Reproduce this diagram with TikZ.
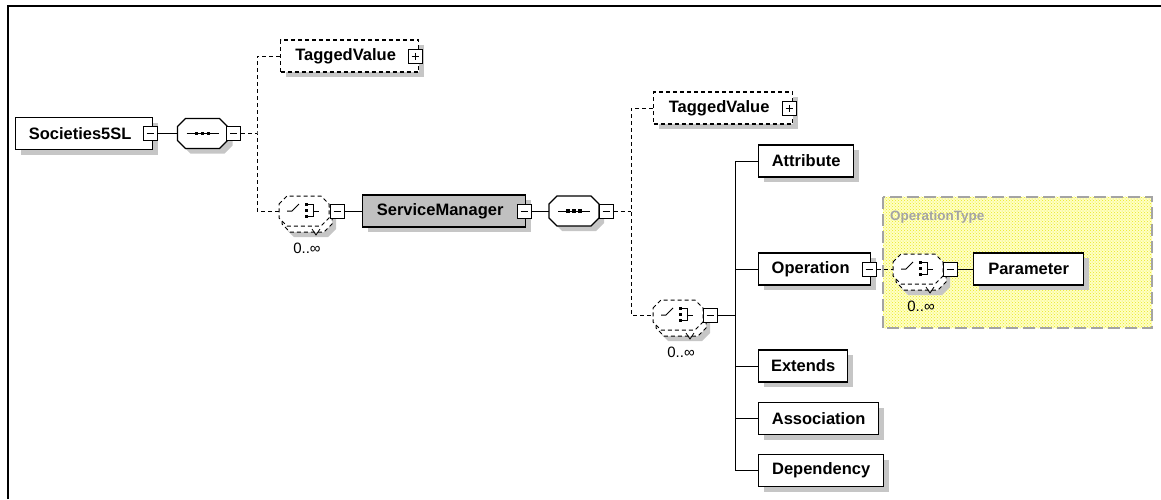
\documentclass[tikz,border=0pt]{standalone}
\usepackage{fontspec}
\setmainfont{Liberation Sans}
\usetikzlibrary{shadows,patterns}
\definecolor{shade}{HTML}{C6C6C6}
\definecolor{smfill}{HTML}{C0C0C0}
\definecolor{typefill}{HTML}{FFFFC4}
\definecolor{typedots}{HTML}{E8E820}
\definecolor{typeedge}{HTML}{A4A4A4}

% octagonal outline of a compositor, offset by (#2,#3) from the current origin
\newcommand\octshape[3]{%
  \draw[#1] (#2-25,#3-7) -- (#2-17,#3-15) -- (#2+17,#3-15) -- (#2+25,#3-7)
    -- (#2+25,#3+7) -- (#2+17,#3+15) -- (#2-17,#3+15) -- (#2-25,#3+7) -- cycle;}

% sequence compositor around node #1
\newcommand\seqcomp[1]{%
  \begin{scope}[shift={(#1.center)}]
    \octshape{fill=shade,draw=none}{5}{5}
    \octshape{fill=white,draw=black,line width=1.1pt}{0}{0}
    \draw[line width=1pt] (-16,0) -- (16,0);
    \foreach \dx in {-6,0,6} \fill (\dx-1.8,-1.8) rectangle (\dx+1.8,1.8);
  \end{scope}}

% optional, repeated choice compositor around node #1
\newcommand\chocomp[1]{%
  \begin{scope}[shift={(#1.center)}]
    \octshape{fill=shade,draw=none}{7}{11}
    \octshape{fill=white,draw=black,line width=1pt,optdash}{3}{6}
    \octshape{fill=white,draw=black,line width=1pt,optdash}{0}{0}
    \draw[line width=0.8pt] (8,18) -- (12,24) -- (16,18);
    \draw[line width=1pt] (-17,0) -- (-12,0) -- (-5,-7);
    \fill (1,-8) rectangle (4,-5);
    \fill (1,-2) rectangle (4,1);
    \fill (1,4) rectangle (4,7);
    \draw[line width=1pt] (4,-6.5) -- (9,-6.5) -- (9,5.5) -- (4,5.5);
    \draw[line width=1pt] (9,0) -- (15,0);
  \end{scope}}

\begin{document}
\begin{tikzpicture}[x=1pt,y=-1pt,
  elem/.style={draw=black, line width=1.3pt, fill=white, minimum height=32pt,
    inner sep=0pt, anchor=west, font=\bfseries\fontsize{16.5}{18}\selectfont,
    drop shadow={shadow xshift=5pt, shadow yshift=-5pt, fill=shade, opacity=1}},
  optdash/.style={dash pattern=on 4pt off 3pt},
  optelem/.style={elem, optdash},
  keyed/.style={execute at begin node={\hspace*{-8pt}}},
  comp/.style={minimum width=50pt, minimum height=30pt, inner sep=0pt},
  btn/.style={draw=black, line width=1pt, fill=white, minimum size=14pt, inner sep=0pt},
  minus/.style={btn, path picture={\draw[line width=1pt]
      ([xshift=3.5pt]path picture bounding box.west) -- ([xshift=-3.5pt]path picture bounding box.east);}},
  plus/.style={btn, path picture={\draw[line width=1pt]
      ([xshift=3.5pt]path picture bounding box.west) -- ([xshift=-3.5pt]path picture bounding box.east)
      ([yshift=-3.5pt]path picture bounding box.north) -- ([yshift=3.5pt]path picture bounding box.south);}},
  card/.style={font=\fontsize{15}{16}\selectfont, inner sep=0pt},
  link/.style={line width=1pt},
  typebox/.style={fill=typefill, inner sep=0pt},
  typelbl/.style={font=\bfseries\fontsize{13.5}{15}\selectfont, text=typeedge, inner sep=0pt, anchor=west},
]
\useasboundingbox (0,0) rectangle (1161,499);

% window frame
\draw[line width=2pt] (7.5,499) -- (7.5,6) -- (1161,6);

% local complex type of Operation
\node[typebox, minimum width=269pt, minimum height=131pt] (optype) at (1017.5,262.5) {};
\fill[pattern=crosshatch dots, pattern color=typedots] (optype.north west) rectangle (optype.south east);
\draw[draw=typeedge, line width=1.8pt, dash pattern=on 12pt off 5pt]
  (optype.north west) rectangle (optype.south east);
\node[typelbl] (optypelbl) at (890,217) {OperationType};

% root element and its sequence
\node[elem, keyed, minimum width=137pt] (soc) at (15,133.5) {Societies5SL};
\node[minus] (socb) at (150,133.5) {};
\node[comp] (seq1) at (202.5,133.5) {};
\seqcomp{seq1}
\node[minus] (seq1b) at (233.5,133.5) {};

\node[optelem, keyed, minimum width=138pt] (tv1) at (280,56) {TaggedValue};
\node[plus] (tv1b) at (415,56) {};

\node[comp] (ch1) at (304,211) {};
\chocomp{ch1}
\node[minus] (ch1b) at (337,211) {};
\node[card] (ch1n) at (307,248) {0..∞};

% ServiceManager and its content
\node[elem, keyed, fill=smfill, minimum width=163pt] (sm) at (362,211) {ServiceManager};
\node[minus] (smb) at (524,211) {};
\node[comp] (seq2) at (574,211) {};
\seqcomp{seq2}
\node[minus] (seq2b) at (606,211) {};

\node[optelem, keyed, minimum width=139pt] (tv2) at (653,108) {TaggedValue};
\node[plus] (tv2b) at (789,108) {};

\node[comp] (ch2) at (678,315) {};
\chocomp{ch2}
\node[minus] (ch2b) at (710,315) {};
\node[card] (ch2n) at (681,352) {0..∞};

\node[elem, minimum width=95pt] (attr) at (758,161) {Attribute};
\node[elem, keyed, minimum width=112pt] (oper) at (758,269) {Operation};
\node[minus] (operb) at (869,269) {};
\node[elem, minimum width=89pt] (ext) at (758,366) {Extends};
\node[elem, minimum width=120pt] (assoc) at (758,418.5) {Association};
\node[elem, minimum width=125pt] (dep) at (758,470.5) {Dependency};

% Operation content
\node[comp] (ch3) at (918,269) {};
\chocomp{ch3}
\node[minus] (ch3b) at (950,269) {};
\node[card] (ch3n) at (921,306) {0..∞};
\node[elem, minimum width=110pt] (param) at (973,269) {Parameter};

% connectors
\coordinate (j1) at (257,133.5);
\coordinate (j2) at (631,211);
\coordinate (j3) at (735,315);
\draw[link] (socb.east) -- (seq1.west);
\draw[link, optdash] (seq1b.east) -- (j1);
\draw[link, optdash] (tv1.west) -| (j1) |- (ch1.west);
\draw[link] (ch1b.east) -- (sm.west);
\draw[link] (smb.east) -- (seq2.west);
\draw[link, optdash] (seq2b.east) -- (j2);
\draw[link, optdash] (tv2.west) -| (j2) |- (ch2.west);
\draw[link] (ch2b.east) -- (j3);
\draw[link] (attr.west) -| (j3) |- (dep.west);
\draw[link] (oper.west) -- (oper.west -| j3);
\draw[link] (ext.west) -- (ext.west -| j3);
\draw[link] (assoc.west) -- (assoc.west -| j3);
\draw[link, optdash] (operb.east) -- (ch3.west);
\draw[link] (ch3b.east) -- (param.west);
\end{tikzpicture}
\end{document}
